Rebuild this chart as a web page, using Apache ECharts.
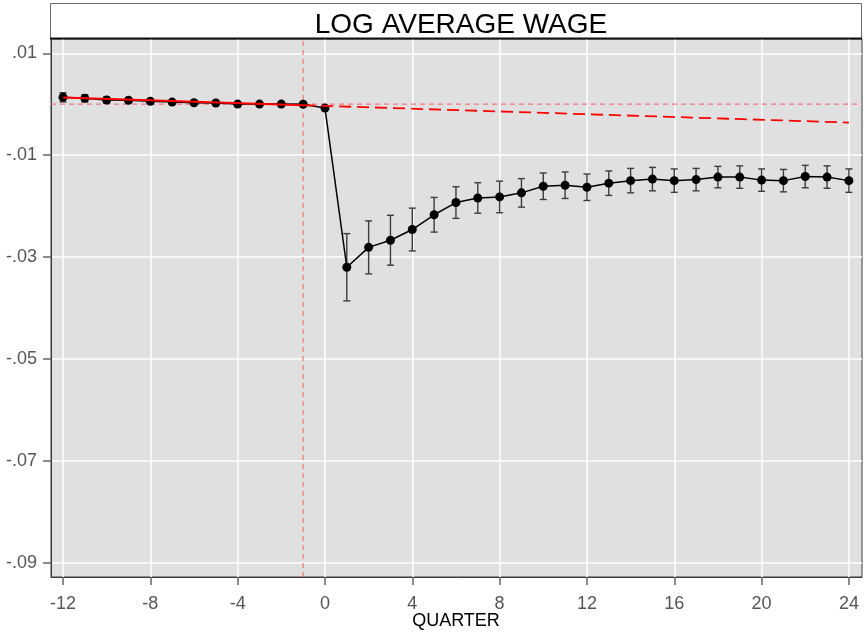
<!DOCTYPE html>
<html>
<head>
<meta charset="utf-8">
<script src="https://cdn.jsdelivr.net/npm/echarts@6/dist/echarts.min.js"></script>
<style>
  html, body { margin: 0; padding: 0; background: #ffffff; }
  #chart { width: 864px; height: 632px; }
</style>
</head>
<body>
<div id="chart"></div>
<script>
// Event-study estimates of log average wage, by quarter relative to the event
const quarters = [-12, -11, -10, -9, -8, -7, -6, -5, -4, -3, -2, -1, 0,
  1, 2, 3, 4, 5, 6, 7, 8, 9, 10, 11, 12, 13, 14, 15, 16, 17, 18, 19, 20, 21, 22, 23, 24];
const estimates = [0.00136, 0.00115, 0.00082, 0.00077, 0.00056, 0.00042, 0.00028, 0.00023, 0.00003, 0.00003, 0.00003, 0.0, -0.00076,
  -0.0320, -0.0281, -0.0267, -0.0246, -0.0217, -0.0193, -0.0184, -0.0182, -0.0174, -0.0161, -0.0159, -0.0163,
  -0.0155, -0.0150, -0.0147, -0.0150, -0.0148, -0.0143, -0.0143, -0.0149, -0.0150, -0.0142, -0.0143, -0.0150];
// Half-width of the confidence interval for each estimate
const ciHalf = [0.0009, 0.0007, 0.0006, 0.0005, 0.0004, 0.0003, 0.00025, 0.0002, 0.00015, 0.0001, 0.00005, 0.0, 0.0002,
  0.0066, 0.0052, 0.0049, 0.0042, 0.0034, 0.0031, 0.0030, 0.0031, 0.0028, 0.0026, 0.0026, 0.0026,
  0.0024, 0.0024, 0.0023, 0.0023, 0.0022, 0.0021, 0.0022, 0.0022, 0.0022, 0.0022, 0.0022, 0.0023];
// Pre-trend fit: solid over the pre-period, extrapolated (dashed) afterwards
const trendPre = [[-12, 0.0013], [-1, -0.0002]];
const trendPost = [[-1, -0.0002], [24, -0.0036]];
const xTicks = [-12, -8, -4, 0, 4, 8, 12, 16, 20, 24];
const yTicks = [-0.09, -0.07, -0.05, -0.03, -0.01, 0.01];
const eventQuarter = -1;
const xRange = [-12.55, 24.6];
const yRange = [-0.0928, 0.0128];

const chart = echarts.init(document.getElementById('chart'), null, { renderer: 'canvas' });

const points = quarters.map((q, i) => [q, estimates[i]]);
const bars = quarters.map((q, i) => [q, estimates[i] - ciHalf[i], estimates[i] + ciHalf[i]]);

function fmtY(v) {
  const r = Math.round(v * 100);
  const s = Math.abs(r) < 10 ? '.0' + Math.abs(r) : '.' + Math.abs(r);
  return (r < 0 ? '-' : '') + s;
}

const font = 'Liberation Sans, Arial, sans-serif';
const refStyle = { color: '#f07878', width: 1.2, type: [5, 4] };

chart.setOption({
  animation: false,
  backgroundColor: '#ffffff',
  title: {
    text: 'LOG AVERAGE WAGE',
    left: 456,
    top: 6,
    textAlign: 'center',
    textStyle: { fontFamily: font, fontSize: 28, fontWeight: 'normal', color: '#000000' }
  },
  graphic: [
    {
      type: 'rect', z: -1,
      shape: { x: 50.5, y: 3.5, width: 811, height: 35 },
      style: { fill: '#ffffff', stroke: '#6b6b6b', lineWidth: 1 }
    },
    {
      type: 'line', z: 10,
      shape: { x1: 50, y1: 38.5, x2: 862, y2: 38.5 },
      style: { stroke: '#111111', lineWidth: 2 }
    },
    {
      // x-axis title
      type: 'text', x: 456, y: 621,
      style: {
        text: 'QUARTER', fontFamily: font, fontSize: 18, fill: '#000000',
        align: 'center', verticalAlign: 'middle'
      }
    }
  ],
  grid: {
    left: 51, right: 2, top: 39, bottom: 55,
    outerBoundsMode: 'none',
    containLabel: false,
    show: true, backgroundColor: '#e0e0e0', borderColor: '#3a3a3a', borderWidth: 1
  },
  xAxis: {
    type: 'value', min: xRange[0], max: xRange[1],
    axisLine: { show: true, onZero: false, lineStyle: { color: '#3a3a3a', width: 1 } },
    axisTick: { show: true, length: 8, customValues: xTicks, lineStyle: { color: '#666666', width: 1.5 } },
    axisLabel: { customValues: xTicks, margin: 18, fontFamily: font, fontSize: 18, color: '#555555' },
    splitLine: { show: true, lineStyle: { color: '#ffffff', width: 1.5 } }
  },
  yAxis: {
    type: 'value', min: yRange[0], max: yRange[1],
    axisLine: { show: true, onZero: false, lineStyle: { color: '#3a3a3a', width: 1 } },
    axisTick: { show: true, length: 8, customValues: yTicks, lineStyle: { color: '#666666', width: 1.5 } },
    axisLabel: { customValues: yTicks, margin: 14, fontFamily: font, fontSize: 18, color: '#555555', formatter: fmtY },
    splitLine: { show: true, lineStyle: { color: '#ffffff', width: 1.5 } }
  },
  series: [
    {
      // zero-effect reference line
      type: 'line', z: 2, data: [[xRange[0], 0], [xRange[1], 0]], symbol: 'none', silent: true,
      lineStyle: refStyle
    },
    {
      // event quarter
      type: 'line', z: 2, data: [[eventQuarter, yRange[0]], [eventQuarter, yRange[1]]], symbol: 'none', silent: true,
      lineStyle: refStyle
    },
    {
      type: 'custom', z: 3,
      renderItem: function (params, api) {
        const x = api.value(0);
        const lo = api.coord([x, api.value(1)]);
        const hi = api.coord([x, api.value(2)]);
        const cap = 3.5;
        const st = { stroke: '#3c3c3c', lineWidth: 1.4 };
        return {
          type: 'group',
          children: [
            { type: 'line', shape: { x1: lo[0], y1: lo[1], x2: hi[0], y2: hi[1] }, style: st },
            { type: 'line', shape: { x1: lo[0] - cap, y1: lo[1], x2: lo[0] + cap, y2: lo[1] }, style: st },
            { type: 'line', shape: { x1: hi[0] - cap, y1: hi[1], x2: hi[0] + cap, y2: hi[1] }, style: st }
          ]
        };
      },
      encode: { x: 0, y: [1, 2] },
      data: bars
    },
    {
      type: 'line', z: 4, data: points,
      symbol: 'circle', symbolSize: 9,
      lineStyle: { color: '#000000', width: 1.5 },
      itemStyle: { color: '#000000' }
    },
    {
      type: 'line', z: 5, data: trendPre, symbol: 'none',
      lineStyle: { color: '#ff0000', width: 2 }
    },
    {
      type: 'line', z: 5, data: trendPost, symbol: 'none',
      lineStyle: { color: '#ff0000', width: 1.8, type: [12, 6] }
    }
  ]
});
</script>
</body>
</html>
